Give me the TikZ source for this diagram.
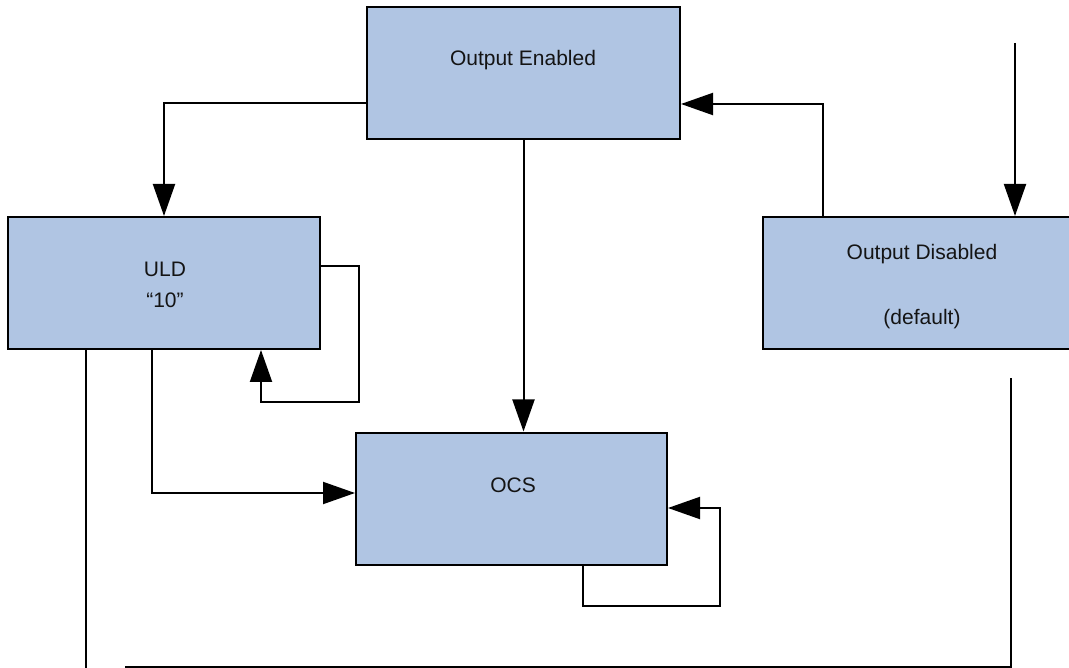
\documentclass[tikz,border=0pt]{standalone}
\usepackage{fontspec}
\setmainfont{Liberation Sans}
\usetikzlibrary{arrows.meta,calc}
\definecolor{statefill}{RGB}{176,197,227}
\definecolor{labelink}{RGB}{20,20,20}
\begin{document}
\begin{tikzpicture}[x=1pt,y=-1pt,
  statebox/.style={draw=black, line width=2pt, fill=statefill,
    minimum width=#1, minimum height=132pt, inner sep=0pt},
  statetext/.style={text=labelink, inner sep=0pt,
    font=\fontsize{21pt}{25pt}\selectfont},
  wire/.style={line width=2pt, line join=miter},
  arr/.style={wire, -{Triangle[length=32pt,width=22pt]}}]

\useasboundingbox (0,0) rectangle (1069,668);
\clip (0,0) rectangle (1069,668);

% states
\node[statebox=313pt] (oe)  at (523.5,73)  {};
\node[statebox=312pt] (uld) at (164,283)   {};
\node[statebox=313pt] (od)  at (919.5,283) {};
\node[statebox=311pt] (ocs) at (511.5,498.5) {};

% state labels
\node[statetext] (oeT)  at (523,60)  {Output Enabled};
\node[statetext] (uldT) at (165,269) {ULD};
\node[statetext] (uldV) at (165,300) {“10”};
\node[statetext] (odT)  at (922,254) {Output Disabled};
\node[statetext] (odV)  at (922,319) {(default)};
\node[statetext] (ocsT) at (513,485) {OCS};

% free ends
\coordinate (reset)   at (1015,43);
\coordinate (uldout)  at (86,668);
\coordinate (retS)    at (125,667);
\coordinate (retC)    at (1011,667);
\coordinate (retE)    at (1011,378);

% transitions
\draw[arr] (oe.west |- 0,103) -| (uld.north);
\draw[arr] (oe.south) -- (oe.south |- ocs.north);
\draw[arr] (od.north -| 823,0) |- (oe.east |- 0,104);
\draw[arr] (reset) -- (od.north -| reset);

% ULD self-loop
\draw[arr] (uld.east |- 0,266) -- (359,266) -- (359,402) -- (261,402)
  -- (uld.south -| 261,0);

% ULD to OCS
\draw[arr] (uld.south -| 152,0) |- (ocs.west |- 0,493);

% OCS self-loop
\draw[arr] (ocs.south -| 583,0) -- (583,606) -- (720,606) -- (720,508)
  -- (ocs.east |- 0,508);

% lines running off the lower edge
\draw[wire] (uld.south -| uldout) -- (uldout);
\draw[wire] (retS) -- (retC) -- (retE);
\end{tikzpicture}
\end{document}
